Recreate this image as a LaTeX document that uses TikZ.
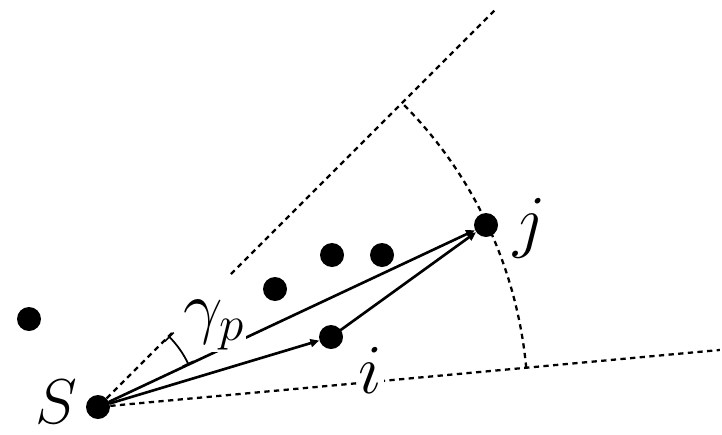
\RequirePackage{fix-cm}
\documentclass[tikz,border=0pt]{standalone}
\usepackage{amsmath}
\usetikzlibrary{arrows,arrows.meta}
\tikzset{
  dot/.style={circle,fill=black,inner sep=0pt,minimum size=0.48cm},
  lbl/.style={font=\fontsize{40}{48}\selectfont,inner sep=1pt},
  ray/.style={line cap=butt,dash pattern=on 3pt off 2.5pt,line width=1.3pt},
  link/.style={->,line width=1.5pt}
}
\begin{document}
\begin{tikzpicture}[line cap=round,line join=round,>={Triangle[length=5pt,width=4.5pt]},x=1.0cm,y=1.0cm]
\useasboundingbox (0,0) rectangle (14.44,8.68);
\node[dot] (s) at (1.96,0.54) {};
\node[dot] (q) at (0.58,2.30) {};
\node[dot] (a) at (5.50,2.90) {};
\node[dot] (b) at (6.64,3.58) {};
\node[dot] (c) at (7.64,3.58) {};
\node[dot] (i) at (6.62,1.94) {};
\node[dot] (j) at (9.72,4.18) {};
\coordinate (armend) at ([shift={(45:2.1)}]s.center);
\coordinate (upstart) at ([shift={(45:3.76)}]s.center);
\coordinate (upend) at ([shift={(45:11.26)}]s.center);
\coordinate (lowend) at ([shift={(5.24:12.49)}]s.center);
\coordinate (arcstart) at ([shift={(5.24:8.6)}]s.center);
\coordinate (markstart) at ([shift={(25.1:2.0)}]s.center);
\draw[ray] (s) -- (armend);
\draw[ray] (upstart) -- (upend);
\draw[ray] (s) -- (lowend);
\draw[ray] (arcstart) arc (5.24:45:8.6);
\node[lbl,font=\fontsize{36}{44}\selectfont] (lbls) at (1.12,0.64) {$S$};
\node[lbl,fill=white] (lbli) at (7.40,1.28) {$i$};
\node[lbl] (lblj) at (10.6,4.12) {$j$};
\draw[link] (s) -- (j);
\draw[link] (s) -- (i);
\draw[link] (i) -- (j);
\node[lbl,fill=white] (lblg) at (4.28,2.18) {$\gamma_p$};
\draw[|-|,line width=1pt] (markstart) arc (25.1:45:2.0);
\end{tikzpicture}
\end{document}
